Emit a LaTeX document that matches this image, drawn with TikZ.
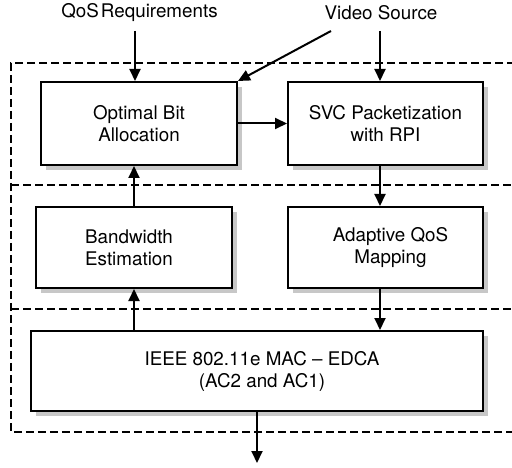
\documentclass[tikz,border=0pt]{standalone}
\usepackage{fontspec}
\setmainfont{TeX Gyre Heros}
\usetikzlibrary{arrows.meta}
\begin{document}
\begin{tikzpicture}[x=1pt,y=-1pt,
  blk/.style={draw,line width=2pt,fill=white,align=center,inner sep=0pt,
    font=\fontsize{18.8}{22}\selectfont},
  shad/.style={fill=black!22,draw=none},
  arr/.style={line width=2pt,-{Triangle[length=12pt,width=11pt]}},
  dsh/.style={line width=1.3pt,dash pattern=on 8pt off 4pt},
  lbl/.style={font=\fontsize{18.8}{22}\selectfont,inner sep=0pt}]
\useasboundingbox (0,0) rectangle (512,468);
% dashed layer frames
\draw[dsh] (515,63) -- (11,63) -- (11,432) -- (515,432);
\draw[dsh] (11,185) -- (515,185);
\draw[dsh] (11,309) -- (515,309);
% shadows
\fill[shad] (46,87) rectangle (242,170);
\fill[shad] (293,87) rectangle (488,170);
\fill[shad] (41,212) rectangle (237,293);
\fill[shad] (293,212) rectangle (488,293);
\fill[shad] (36,336) rectangle (488,416);
% blocks
\node[blk,minimum width=196pt,minimum height=83pt] (opt) at (139,123.5) {Optimal Bit\\Allocation};
\node[blk,minimum width=195pt,minimum height=83pt] (svc) at (385.5,123.5) {SVC Packetization\\with RPI};
\node[blk,minimum width=196pt,minimum height=81pt] (bw) at (134,247.5) {\hspace*{-10pt}Bandwidth\\\hspace*{-10pt}Estimation};
\node[blk,minimum width=195pt,minimum height=81pt] (aqm) at (385.5,247.5) {\hspace*{10pt}Adaptive QoS\\\hspace*{10pt}Mapping};
\node[blk,minimum width=452pt,minimum height=80pt] (mac) at (257,371) {\hspace*{10pt}IEEE 802.11e MAC -- EDCA\\\hspace*{10pt}(AC2 and AC1)};
% inputs
\node[lbl] (qos) at (139.5,13) {QoS\hspace{2pt}Requirements};
\node[lbl] (vid) at (381,13) {Video Source};
\coordinate (qin) at (135,31);
\coordinate (vin) at (380,31);
\coordinate (din) at (331,31);
\coordinate (out) at (257,463);
% connectors
\draw[arr] (qin) -- (qin |- opt.north);
\draw[arr] (vin) -- (vin |- svc.north);
\draw[arr] (din) -- (opt.north east);
\draw[arr] (opt.east) -- (svc.west);
\draw[arr] (bw.north) -- (bw.north |- opt.south);
\draw[arr] (vin |- svc.south) -- (vin |- aqm.north);
\draw[arr] (vin |- aqm.south) -- (vin |- mac.north);
\draw[arr] (bw.north |- mac.north) -- (bw.south);
\draw[arr] (mac.south) -- (out);
\end{tikzpicture}
\end{document}
